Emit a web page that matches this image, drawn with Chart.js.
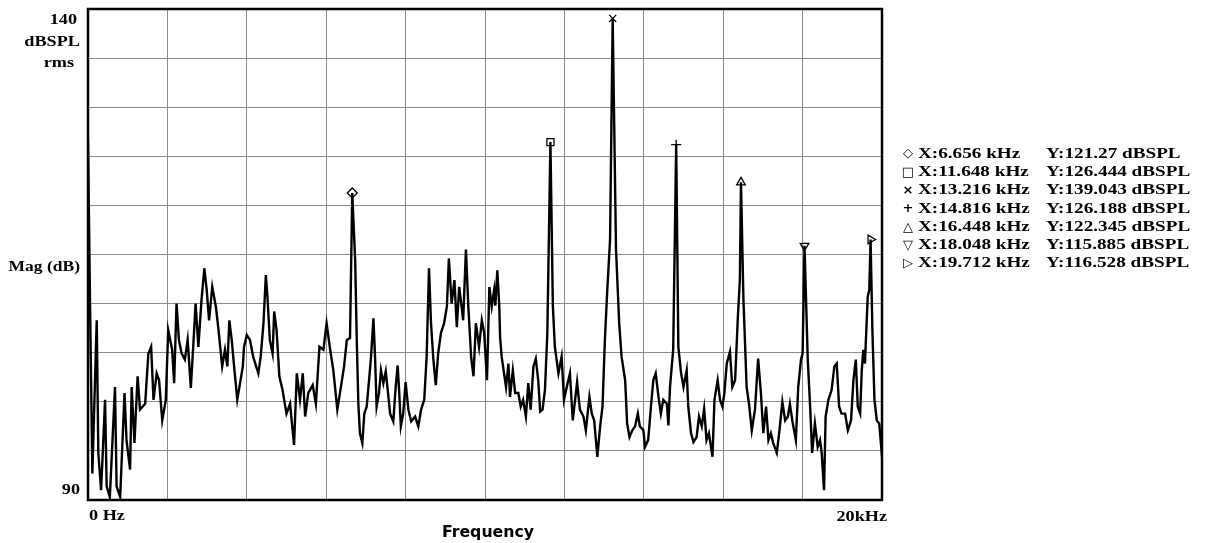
<!DOCTYPE html>
<html>
<head>
<meta charset="utf-8">
<script src="https://cdn.jsdelivr.net/npm/chart.js@4.4.1/dist/chart.umd.min.js"></script>
<style>
  html, body { margin: 0; padding: 0; background: #fff; }
  #wrap { width: 1205px; height: 543px; }
</style>
</head>
<body>
<div id="wrap"><canvas id="spectrum" width="1205" height="543"></canvas></div>
<script>
// Spectrum trace (kHz / dBSPL rms)
const freqKHz = [
  // 0 - 2 kHz
  0.00, 0.05, 0.11, 0.22, 0.26, 0.33, 0.43, 0.47, 0.55, 0.68, 0.72, 0.81, 0.92, 0.97, 1.06, 1.10,
  1.17, 1.25, 1.31, 1.44, 1.52, 1.59, 1.65, 1.73, 1.79, 1.87, 1.96,
  // 2 - 4 kHz
  2.02, 2.12, 2.17, 2.23, 2.29, 2.36, 2.44, 2.51, 2.59, 2.65, 2.71, 2.78, 2.86, 2.93, 2.99, 3.05,
  3.13, 3.22, 3.28, 3.38, 3.45, 3.51, 3.56, 3.62, 3.68, 3.76, 3.83, 3.90, 3.93,
  // 4 - 6 kHz
  4.00, 4.08, 4.16, 4.29, 4.35, 4.42, 4.48, 4.52, 4.58, 4.65, 4.69, 4.75, 4.82, 4.90, 5.00, 5.09,
  5.19, 5.26, 5.34, 5.41, 5.47, 5.55, 5.66, 5.74, 5.83, 5.93,
  // 6 - 8 kHz
  6.01, 6.10, 6.18, 6.28, 6.37, 6.45, 6.52, 6.60, 6.656, 6.73, 6.77, 6.81, 6.85, 6.91, 6.96, 7.02,
  7.08, 7.13, 7.19, 7.23, 7.27, 7.33, 7.38, 7.44, 7.50, 7.55, 7.61, 7.69, 7.75, 7.80, 7.84, 7.88, 7.94,
  // 8 - 10 kHz
  8.00, 8.07, 8.14, 8.24, 8.32, 8.39, 8.47, 8.53, 8.59, 8.64, 8.70, 8.76, 8.82, 8.89, 8.97, 9.04,
  9.09, 9.16, 9.23, 9.29, 9.35, 9.41, 9.45, 9.52, 9.58, 9.65, 9.71, 9.77, 9.85, 9.92, 9.98,
  // 10 - 12 kHz
  10.05, 10.11, 10.17, 10.23, 10.26, 10.31, 10.36, 10.38, 10.42, 10.48, 10.53, 10.59, 10.63, 10.70,
  10.76, 10.84, 10.90, 10.96, 11.03, 11.09, 11.15, 11.22, 11.28, 11.34, 11.39, 11.45, 11.51, 11.57,
  11.648, 11.71, 11.76, 11.85, 11.93, 11.99,
  // 12 - 14 kHz
  12.06, 12.14, 12.21, 12.27, 12.32, 12.39, 12.48, 12.54, 12.63, 12.69, 12.75, 12.83, 12.90, 12.96,
  13.02, 13.08, 13.15, 13.216, 13.30, 13.38, 13.44, 13.53, 13.58, 13.64, 13.71, 13.78, 13.85, 13.90, 13.99,
  // 14 - 16 kHz
  14.03, 14.11, 14.18, 14.24, 14.30, 14.37, 14.43, 14.49, 14.58, 14.62, 14.66, 14.74, 14.816, 14.87,
  14.94, 15.00, 15.08, 15.12, 15.19, 15.25, 15.33, 15.39, 15.46, 15.52, 15.58, 15.64, 15.73, 15.78,
  15.86, 15.92, 15.98,
  // 16 - 18 kHz
  16.03, 16.09, 16.17, 16.23, 16.30, 16.37, 16.42, 16.448, 16.51, 16.59, 16.65, 16.72, 16.80, 16.88,
  16.95, 17.01, 17.08, 17.14, 17.20, 17.26, 17.35, 17.41, 17.49, 17.56, 17.63, 17.68, 17.74, 17.83,
  17.89, 17.96,
  // 18 - 20 kHz
  18.00, 18.048, 18.13, 18.19, 18.24, 18.31, 18.38, 18.44, 18.48, 18.54, 18.58, 18.65, 18.73, 18.80,
  18.86, 18.92, 18.98, 19.07, 19.14, 19.22, 19.28, 19.34, 19.39, 19.45, 19.49, 19.53, 19.57, 19.64,
  19.68, 19.712, 19.76, 19.81, 19.87, 19.93, 19.98, 20.00
];
const magDB = [
  // 0 - 2 kHz
  126.7, 110.4, 92.7, 108.3, 94.8, 91.0, 100.2, 91.4, 90.3, 101.5, 91.4, 90.3, 100.9, 96.1, 93.1, 101.5,
  95.8, 102.6, 99.2, 99.8, 104.9, 105.6, 100.2, 102.9, 102.2, 98.1, 100.2,
  // 2 - 4 kHz
  107.3, 105.3, 101.9, 110.0, 106.3, 104.9, 104.3, 106.3, 101.4, 105.6, 110.0, 105.6, 110.4, 113.6, 111.4, 108.3,
  111.7, 109.7, 107.6, 103.6, 105.3, 103.6, 108.3, 106.3, 103.6, 100.2, 101.9, 103.6, 105.6,
  // 4 - 6 kHz
  106.8, 106.3, 104.6, 102.9, 104.6, 108.0, 112.9, 110.7, 106.3, 104.9, 109.2, 107.3, 102.6, 101.2, 98.8, 99.8,
  95.6, 102.9, 100.2, 102.9, 98.5, 100.9, 101.7, 99.8, 105.6, 105.3,
  // 6 - 8 kHz
  108.0, 105.3, 103.2, 99.2, 101.5, 103.6, 106.3, 106.5, 121.27, 114.4, 106.3, 99.8, 96.8, 95.8, 98.8, 99.5,
  102.2, 104.6, 108.5, 104.6, 99.5, 100.9, 103.2, 101.9, 103.1, 101.2, 98.8, 98.0, 101.5, 103.7, 100.9, 97.5, 98.8,
  // 8 - 10 kHz
  102.0, 99.2, 98.0, 98.5, 97.5, 99.2, 100.2, 104.6, 113.6, 108.0, 104.3, 101.7, 104.9, 107.0, 108.0, 109.7,
  114.6, 110.0, 112.4, 107.6, 111.7, 109.7, 108.3, 115.5, 109.7, 104.6, 102.6, 108.0, 105.6, 108.3, 107.0,
  // 10 - 12 kHz
  102.2, 111.7, 109.7, 111.4, 109.8, 113.4, 109.7, 106.6, 104.6, 102.9, 101.5, 103.9, 100.5, 103.2,
  100.9, 100.9, 99.5, 100.2, 98.5, 101.9, 99.2, 103.6, 104.4, 102.2, 99.0, 99.2, 101.2, 107.0,
  126.444, 109.7, 105.6, 102.9, 104.6, 100.2,
  // 12 - 14 kHz
  101.5, 102.9, 98.1, 100.2, 102.0, 99.2, 98.5, 97.1, 100.5, 98.8, 98.1, 94.4, 97.5, 99.5,
  106.3, 111.4, 116.5, 139.043, 115.5, 108.0, 104.6, 102.2, 97.8, 96.4, 97.1, 97.5, 98.8, 97.5, 97.1,
  // 14 - 16 kHz
  95.4, 96.1, 99.5, 102.2, 102.9, 100.5, 98.8, 100.2, 99.8, 97.6, 101.5, 105.3, 126.188, 105.6,
  102.9, 101.5, 103.2, 99.5, 96.8, 95.9, 96.4, 98.5, 97.5, 99.3, 96.1, 96.8, 94.4, 100.2,
  102.2, 100.2, 99.5,
  // 16 - 18 kHz
  100.9, 103.9, 105.1, 101.5, 102.2, 108.7, 112.4, 122.345, 110.4, 101.5, 99.8, 97.1, 99.2, 104.4,
  100.9, 96.8, 99.5, 96.1, 96.8, 95.8, 94.8, 96.8, 100.0, 98.1, 98.5, 99.8, 98.1, 96.1,
  101.5, 104.3,
  // 18 - 20 kHz
  104.9, 115.885, 104.3, 99.5, 94.8, 97.8, 95.4, 96.1, 94.8, 91.0, 98.5, 100.2, 101.2, 103.6,
  103.9, 99.5, 98.8, 98.8, 97.1, 98.1, 102.2, 104.3, 99.5, 98.8, 103.2, 105.3, 103.9, 110.7,
  111.4, 116.528, 107.0, 100.2, 98.1, 97.8, 95.4, 96.0
];

// Harmonic markers (cursor readouts listed on the right)
const markerFreq = [6.656, 11.648, 13.216, 14.816, 16.448, 18.048, 19.712];
const markerMag = [121.27, 126.444, 139.043, 126.188, 122.345, 115.885, 116.528];
const markerGlyph = ['\u25C7', '\u25A1', '\u00D7', '+', '\u25B3', '\u25BD', '\u25B7'];

// Axis texts
const xTickLabels = ['0 Hz', '20kHz'];
const yTickLabels = ['90', '140'];
const yUnitLines = ['dBSPL', 'rms'];
const yTitle = 'Mag (dB)';
const xTitle = 'Frequency';

const SERIF = '"Liberation Serif", "Times New Roman", serif';
const SANS = '"DejaVu Sans", Verdana, sans-serif';
const STRETCH = 1.37; // the screenshot text is wider than a plain Times face

function wideText(ctx, text, x, y, align, font, sx) {
  ctx.save();
  ctx.font = font;
  ctx.textBaseline = 'middle';
  ctx.textAlign = align;
  ctx.translate(x, y);
  ctx.scale(sx, 1);
  ctx.fillText(text, 0, 0);
  ctx.restore();
}

const analyzerText = {
  id: 'analyzerText',
  afterDraw(chart) {
    const { ctx, chartArea: a } = chart;
    const bold = 'bold 14px ' + SERIF;

    // plot frame
    ctx.save();
    ctx.strokeStyle = '#000';
    ctx.lineWidth = 2.5;
    ctx.strokeRect(a.left, a.top, a.right - a.left, a.bottom - a.top);
    ctx.restore();

    ctx.fillStyle = '#000';
    // y axis texts
    wideText(ctx, yTickLabels[1], a.left - 11, a.top + 11, 'right', bold, 1.3);
    wideText(ctx, yUnitLines[0], a.left - 8, a.top + 33, 'right', bold, 1.3);
    wideText(ctx, yUnitLines[1], a.left - 14, a.top + 54, 'right', bold, 1.3);
    wideText(ctx, yTitle, a.left - 8, 267, 'right', bold, 1.25);
    wideText(ctx, yTickLabels[0], a.left - 8, a.bottom - 10, 'right', bold, 1.3);

    // x axis texts
    wideText(ctx, xTickLabels[0], a.left + 1, a.bottom + 16, 'left', bold, 1.3);
    wideText(ctx, xTickLabels[1], a.right + 5, a.bottom + 17, 'right', bold, 1.3);
    wideText(ctx, xTitle, (a.left + a.right) / 2 + 3, a.bottom + 33, 'center', 'bold 15px ' + SANS, 1.05);

    // cursor readout list
    markerFreq.forEach((f, i) => {
      const rowY = 154 + i * 18.3;
      wideText(ctx, markerGlyph[i], 908, rowY, 'center', 'bold 13px ' + SANS, 1);
      wideText(ctx, 'X:' + f + ' kHz', 918, rowY, 'left', bold, STRETCH);
      wideText(ctx, 'Y:' + markerMag[i] + ' dBSPL', 1046, rowY, 'left', bold, STRETCH);
    });
  }
};

const trace = freqKHz.map((f, i) => ({ x: f, y: magDB[i] }));
const peaks = markerFreq.map((f, i) => ({ x: f, y: markerMag[i] }));

const gridStyle = { color: '#8a8a8a', lineWidth: 1, drawTicks: false };

new Chart(document.getElementById('spectrum'), {
  type: 'scatter',
  data: {
    datasets: [
      {
        data: trace,
        showLine: true,
        borderColor: '#000',
        borderWidth: 2.4,
        pointRadius: 0,
        tension: 0
      },
      {
        data: peaks,
        showLine: false,
        pointStyle: ['rectRot', 'rect', 'crossRot', 'cross', 'triangle', 'triangle', 'triangle'],
        rotation: [0, 0, 0, 0, 0, 180, 90],
        pointRadius: 5,
        borderColor: '#000',
        borderWidth: 1.3,
        backgroundColor: 'rgba(255,255,255,0)'
      }
    ]
  },
  options: {
    responsive: false,
    animation: false,
    devicePixelRatio: 1,
    layout: { padding: { left: 88, top: 9, right: 323, bottom: 43 } },
    plugins: { legend: { display: false }, tooltip: { enabled: false } },
    scales: {
      x: {
        type: 'linear',
        min: 0,
        max: 20,
        ticks: { display: false, stepSize: 2 },
        grid: gridStyle,
        border: { display: false }
      },
      y: {
        min: 90,
        max: 140,
        ticks: { display: false, stepSize: 5 },
        grid: gridStyle,
        border: { display: false }
      }
    }
  },
  plugins: [analyzerText]
});
</script>
</body>
</html>
